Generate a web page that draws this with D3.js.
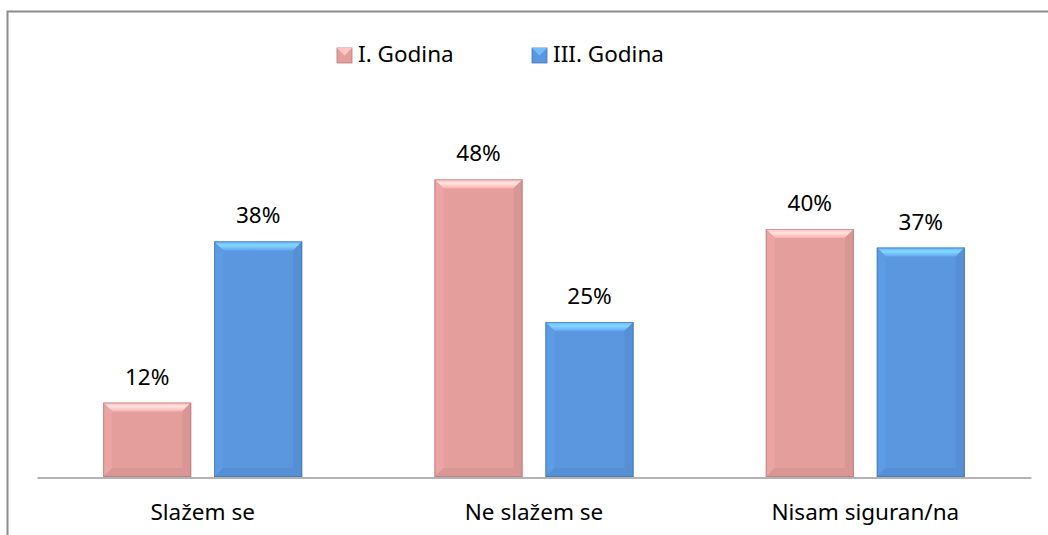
<!DOCTYPE html>
<html>
<head>
<meta charset="utf-8">
<script src="https://cdn.jsdelivr.net/npm/d3@7"></script>
<style>
	body { margin: 0; background: #fff; }
	svg { display: block; font-family: "Noto Sans", "Open Sans", sans-serif; }
</style>
</head>
<body>
<svg id="chart" width="1048" height="535"></svg>
<script>
let categories = ["Slažem se", "Ne slažem se", "Nisam siguran/na"];
let series = ["I. Godina", "III. Godina"];
let godina1 = [0.12, 0.48, 0.40];
let godina3 = [0.38, 0.25, 0.37];
let colors = ["#e49f9d", "#5b97df"];

let svg = d3.select("#chart");
let width = 1048, height = 535;
let margin = {left: 37, right: 17, top: 105, bottom: 58};
let base = height - margin.bottom;
let fs = 22.5;

// frame (right and bottom edges fall outside the picture)
svg.append("rect")
	.attr("x", 7.5).attr("y", 11.5)
	.attr("width", 1100).attr("height", 600)
	.attr("fill", "none")
	.attr("stroke", "#8c8c8c")
	.attr("stroke-width", 2);

let x0 = d3.scaleBand()
	.domain(categories)
	.range([margin.left, width - margin.right]);
let x1 = d3.scaleBand()
	.domain(series)
	.range([-99.5, 99.5])
	.paddingInner(0.207);
let y = d3.scaleLinear()
	.domain([0, 0.6])
	.range([base, margin.top]);

let defs = svg.append("defs");
colors.forEach((c, k) => {
	let g = defs.append("linearGradient").attr("id", "top" + k)
		.attr("x1", 0).attr("y1", 0).attr("x2", 0).attr("y2", 1);
	g.append("stop").attr("offset", 0).attr("stop-color", d3.color(c).brighter(0.5));
	g.append("stop").attr("offset", 0.45).attr("stop-color", d3.color(c).brighter(1.0));
	g.append("stop").attr("offset", 1).attr("stop-color", d3.color(c).brighter(0.25));
});

let rows = categories.map((c, i) => ({cat: c, vals: [godina1[i], godina3[i]]}));
let b = 9;

let groups = svg.append("g")
	.selectAll("g")
	.data(rows)
	.join("g")
	.attr("transform", d => `translate(${x0(d.cat) + x0.bandwidth() / 2},0)`);

let bars = groups.selectAll("g")
	.data(d => d.vals.map((v, k) => ({v, k, s: series[k]})))
	.join("g");

bars.each(function(d) {
	let g = d3.select(this);
	let x = x1(d.s), w = x1.bandwidth();
	let t = y(d.v), h = base - t;
	let c = colors[d.k];
	g.append("rect")
		.attr("x", x).attr("y", t).attr("width", w).attr("height", h)
		.attr("fill", c);
	// top bevel
	g.append("path")
		.attr("d", `M${x},${t}L${x + w},${t}L${x + w - b},${t + b}L${x + b},${t + b}Z`)
		.attr("fill", `url(#top${d.k})`);
	// left bevel
	g.append("path")
		.attr("d", `M${x},${t}L${x + b},${t + b}L${x + b},${base - b}L${x},${base}Z`)
		.attr("fill", d3.color(c).brighter(0.08));
	// right bevel
	g.append("path")
		.attr("d", `M${x + w},${t}L${x + w - b},${t + b}L${x + w - b},${base - b}L${x + w},${base}Z`)
		.attr("fill", d3.color(c).darker(0.15));
	// bottom bevel
	g.append("path")
		.attr("d", `M${x},${base}L${x + b},${base - b}L${x + w - b},${base - b}L${x + w},${base}Z`)
		.attr("fill", d3.color(c).darker(0.15));
	g.append("rect")
		.attr("x", x + 0.5).attr("y", t + 0.5).attr("width", w - 1).attr("height", h - 1)
		.attr("fill", "none")
		.attr("stroke", d3.color(c).darker(0.9))
		.attr("stroke-opacity", 0.55);
	g.append("text")
		.attr("x", x + w / 2)
		.attr("y", t - 18)
		.attr("text-anchor", "middle")
		.attr("font-size", fs)
		.attr("fill", "#000")
		.text(Math.round(d.v * 100) + "%");
});

// category axis
let axis = svg.append("g")
	.attr("transform", `translate(0,${base + 0.5})`)
	.call(d3.axisBottom(x0).tickSize(0).tickPadding(27));
axis.select(".domain")
	.attr("stroke", "#9a9a9a")
	.attr("stroke-width", 1.6);
axis.selectAll("text")
	.attr("font-size", fs)
	.attr("font-family", "\"Noto Sans\", sans-serif")
	.attr("fill", "#000");

// legend
let legendX = [337, 532];
let legend = svg.append("g")
	.selectAll("g")
	.data(series)
	.join("g")
	.attr("transform", (d, i) => `translate(${legendX[i]},48)`);
legend.append("rect")
	.attr("width", 15).attr("height", 15)
	.attr("fill", (d, i) => colors[i])
	.attr("stroke", (d, i) => d3.color(colors[i]).darker(0.7))
	.attr("stroke-width", 0.8);
legend.append("path")
	.attr("d", "M0,0L15,0L7.5,7.5Z")
	.attr("fill", (d, i) => d3.color(colors[i]).brighter(0.6));
legend.append("text")
	.attr("x", 21)
	.attr("y", 14)
	.attr("font-size", fs)
	.attr("fill", "#000")
	.text(d => d);
</script>
</body>
</html>
